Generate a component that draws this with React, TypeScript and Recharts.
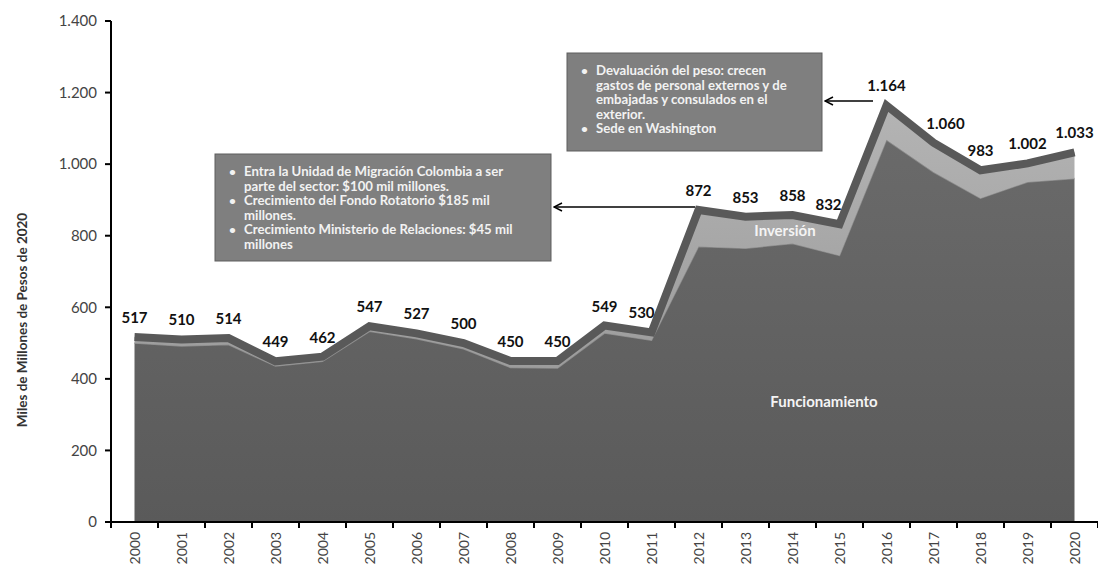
import React from "react";
import { Area, ComposedChart, LabelList, Line, XAxis, YAxis } from "recharts";

const YEARS = ["2000", "2001", "2002", "2003", "2004", "2005", "2006", "2007", "2008", "2009", "2010",
  "2011", "2012", "2013", "2014", "2015", "2016", "2017", "2018", "2019", "2020"];
const TOTAL = [517, 510, 514, 449, 462, 547, 527, 500, 450, 450, 549, 530, 872, 853, 858, 832, 1164, 1060, 983, 1002, 1033];
const FUNCIONAMIENTO = [500, 492, 496, 436, 449, 533, 512, 484, 432, 430, 528, 508, 770, 765, 778, 745, 1068, 978, 905, 950, 960];
const Y_TICKS = [0, 200, 400, 600, 800, 1000, 1200, 1400];

const NOTA_1 = [
  ["Entra la Unidad de Migración Colombia  a ser", "parte del sector: $100 mil millones."],
  ["Crecimiento del Fondo Rotatorio $185 mil", "millones."],
  ["Crecimiento Ministerio de Relaciones: $45 mil", "millones"],
];
const NOTA_2 = [
  ["Devaluación del peso: crecen", "gastos de personal externos y de", "embajadas y consulados en el", "exterior."],
  ["Sede en Washington"],
];

// empujes horizontales de algunas etiquetas para que no pisen la línea
const NUDGE: Record<string, number> = { "2011": -10, "2015": -11, "2017": 12 };

const data = YEARS.map((y, i) => ({
  year: y,
  funcionamiento: FUNCIONAMIENTO[i],
  inversion: TOTAL[i] - FUNCIONAMIENTO[i],
  total: TOTAL[i],
}));

const FONT = "Lato, 'Open Sans', sans-serif";
const fmt = (v: number) => String(v).replace(/\B(?=(\d{3})+(?!\d))/g, ".");

function XTick(props: any) {
  const { x, y, payload, index } = props;
  const half = payload.offset || 23.5;
  return (
    <g>
      <line x1={x + half} y1={y} x2={x + half} y2={y + 6} stroke="#000" strokeWidth={2} />
      {index === 0 && <line x1={x - half} y1={y} x2={x - half} y2={y + 6} stroke="#000" strokeWidth={2} />}
      <text
        x={x + 5}
        y={y + 10}
        transform={`rotate(-90 ${x + 5} ${y + 10})`}
        textAnchor="end"
        fontSize={14}
        fontFamily={FONT}
        fill="#444"
      >
        {payload.value}
      </text>
    </g>
  );
}

function TotalLabel(props: any) {
  const { x, y, value, index } = props;
  const dx = NUDGE[YEARS[index]] ?? 0;
  return (
    <text x={x + dx} y={y - 14} textAnchor="middle" fontSize={15} fontWeight={700} fontFamily={FONT} fill="#111">
      {fmt(value)}
    </text>
  );
}

function Nota({ x, y, w, h, items }: { x: number; y: number; w: number; h: number; items: string[][] }) {
  let line = 0;
  return (
    <g>
      <rect x={x} y={y} width={w} height={h} fill="#7f7f7f" stroke="#5e5e5e" strokeWidth={1} />
      {items.map((it, i) =>
        it.map((t, j) => {
          const ty = y + 22 + line * 14.5;
          line++;
          return (
            <g key={`${i}-${j}`}>
              {j === 0 && (
                <text x={x + 14} y={ty} fontSize={12} fontWeight={700} fontFamily={FONT} fill="#f2f2f2">
                  •
                </text>
              )}
              <text x={x + 29} y={ty} fontSize={13.2} fontWeight={700} fontFamily={FONT} fill="#f2f2f2">
                {t}
              </text>
            </g>
          );
        })
      )}
    </g>
  );
}

export default function App() {
  return (
    <div style={{ position: "absolute", top: 0, left: 0, width: 1098, height: 569, background: "#fff", overflow: "hidden" }}>
      <ComposedChart width={1098} height={569} data={data} margin={{ top: 21, right: 0, bottom: 0, left: 0 }}>
        <defs>
          <linearGradient id="gFun" x1="0" y1="0" x2="0" y2="1">
            <stop offset="0%" stopColor="#6a6a6a" />
            <stop offset="100%" stopColor="#5a5a5a" />
          </linearGradient>
          <linearGradient id="gInv" x1="0" y1="0" x2="0" y2="1">
            <stop offset="0%" stopColor="#b4b4b4" />
            <stop offset="100%" stopColor="#9c9c9c" />
          </linearGradient>
        </defs>
        <XAxis
          dataKey="year"
          scale="band"
          height={47}
          interval={0}
          axisLine={{ stroke: "#000", strokeWidth: 2 }}
          tickLine={false}
          tickSize={0}
          tickMargin={0}
          tick={<XTick />}
        />
        <YAxis
          width={111}
          domain={[0, 1400]}
          ticks={Y_TICKS}
          interval={0}
          tickFormatter={fmt}
          axisLine={{ stroke: "#000", strokeWidth: 2 }}
          tickLine={{ stroke: "#000", strokeWidth: 2 }}
          tickSize={6}
          tickMargin={8}
          tick={{ fontSize: 15, fontFamily: FONT, fill: "#444" }}
        />
        <Area
          type="linear"
          dataKey="funcionamiento"
          stackId="a"
          fill="url(#gFun)"
          fillOpacity={1}
          stroke="#8c8c8c"
          strokeWidth={1.5}
          isAnimationActive={false}
        />
        <Area
          type="linear"
          dataKey="inversion"
          stackId="a"
          fill="url(#gInv)"
          fillOpacity={1}
          stroke="none"
          isAnimationActive={false}
        />
        <Line
          type="linear"
          dataKey="total"
          stroke="#595959"
          strokeWidth={8}
          strokeLinejoin="miter"
          dot={false}
          isAnimationActive={false}
        >
          <LabelList dataKey="total" content={<TotalLabel />} />
        </Line>
      </ComposedChart>
      <svg width={1098} height={569} style={{ position: "absolute", top: 0, left: 0, pointerEvents: "none" }}>
        <defs>
          <marker id="flecha" markerWidth="10" markerHeight="10" refX="9" refY="5" orient="auto" markerUnits="userSpaceOnUse">
            <path d="M1,1 L9,5 L1,9" fill="none" stroke="#000" strokeWidth={1.5} />
          </marker>
        </defs>
        <text
          x={27}
          y={320}
          transform="rotate(-90 27 320)"
          textAnchor="middle"
          fontSize={13.5}
          fontWeight={700}
          fontFamily={FONT}
          fill="#333"
        >
          Miles de Millones de Pesos de 2020
        </text>
        <Nota x={215} y={154} w={336} h={107} items={NOTA_1} />
        <Nota x={567} y={53} w={255} h={98} items={NOTA_2} />
        <line x1={695} y1={207} x2={554} y2={207} stroke="#000" strokeWidth={1.5} markerEnd="url(#flecha)" />
        <line x1={873} y1={101} x2={825} y2={101} stroke="#000" strokeWidth={1.5} markerEnd="url(#flecha)" />
        <text x={785} y={236} textAnchor="middle" fontSize={15} fontWeight={700} fontFamily={FONT} fill="#f4f4f4">
          Inversión
        </text>
        <text x={824} y={407} textAnchor="middle" fontSize={15} fontWeight={700} fontFamily={FONT} fill="#f4f4f4">
          Funcionamiento
        </text>
      </svg>
    </div>
  );
}
